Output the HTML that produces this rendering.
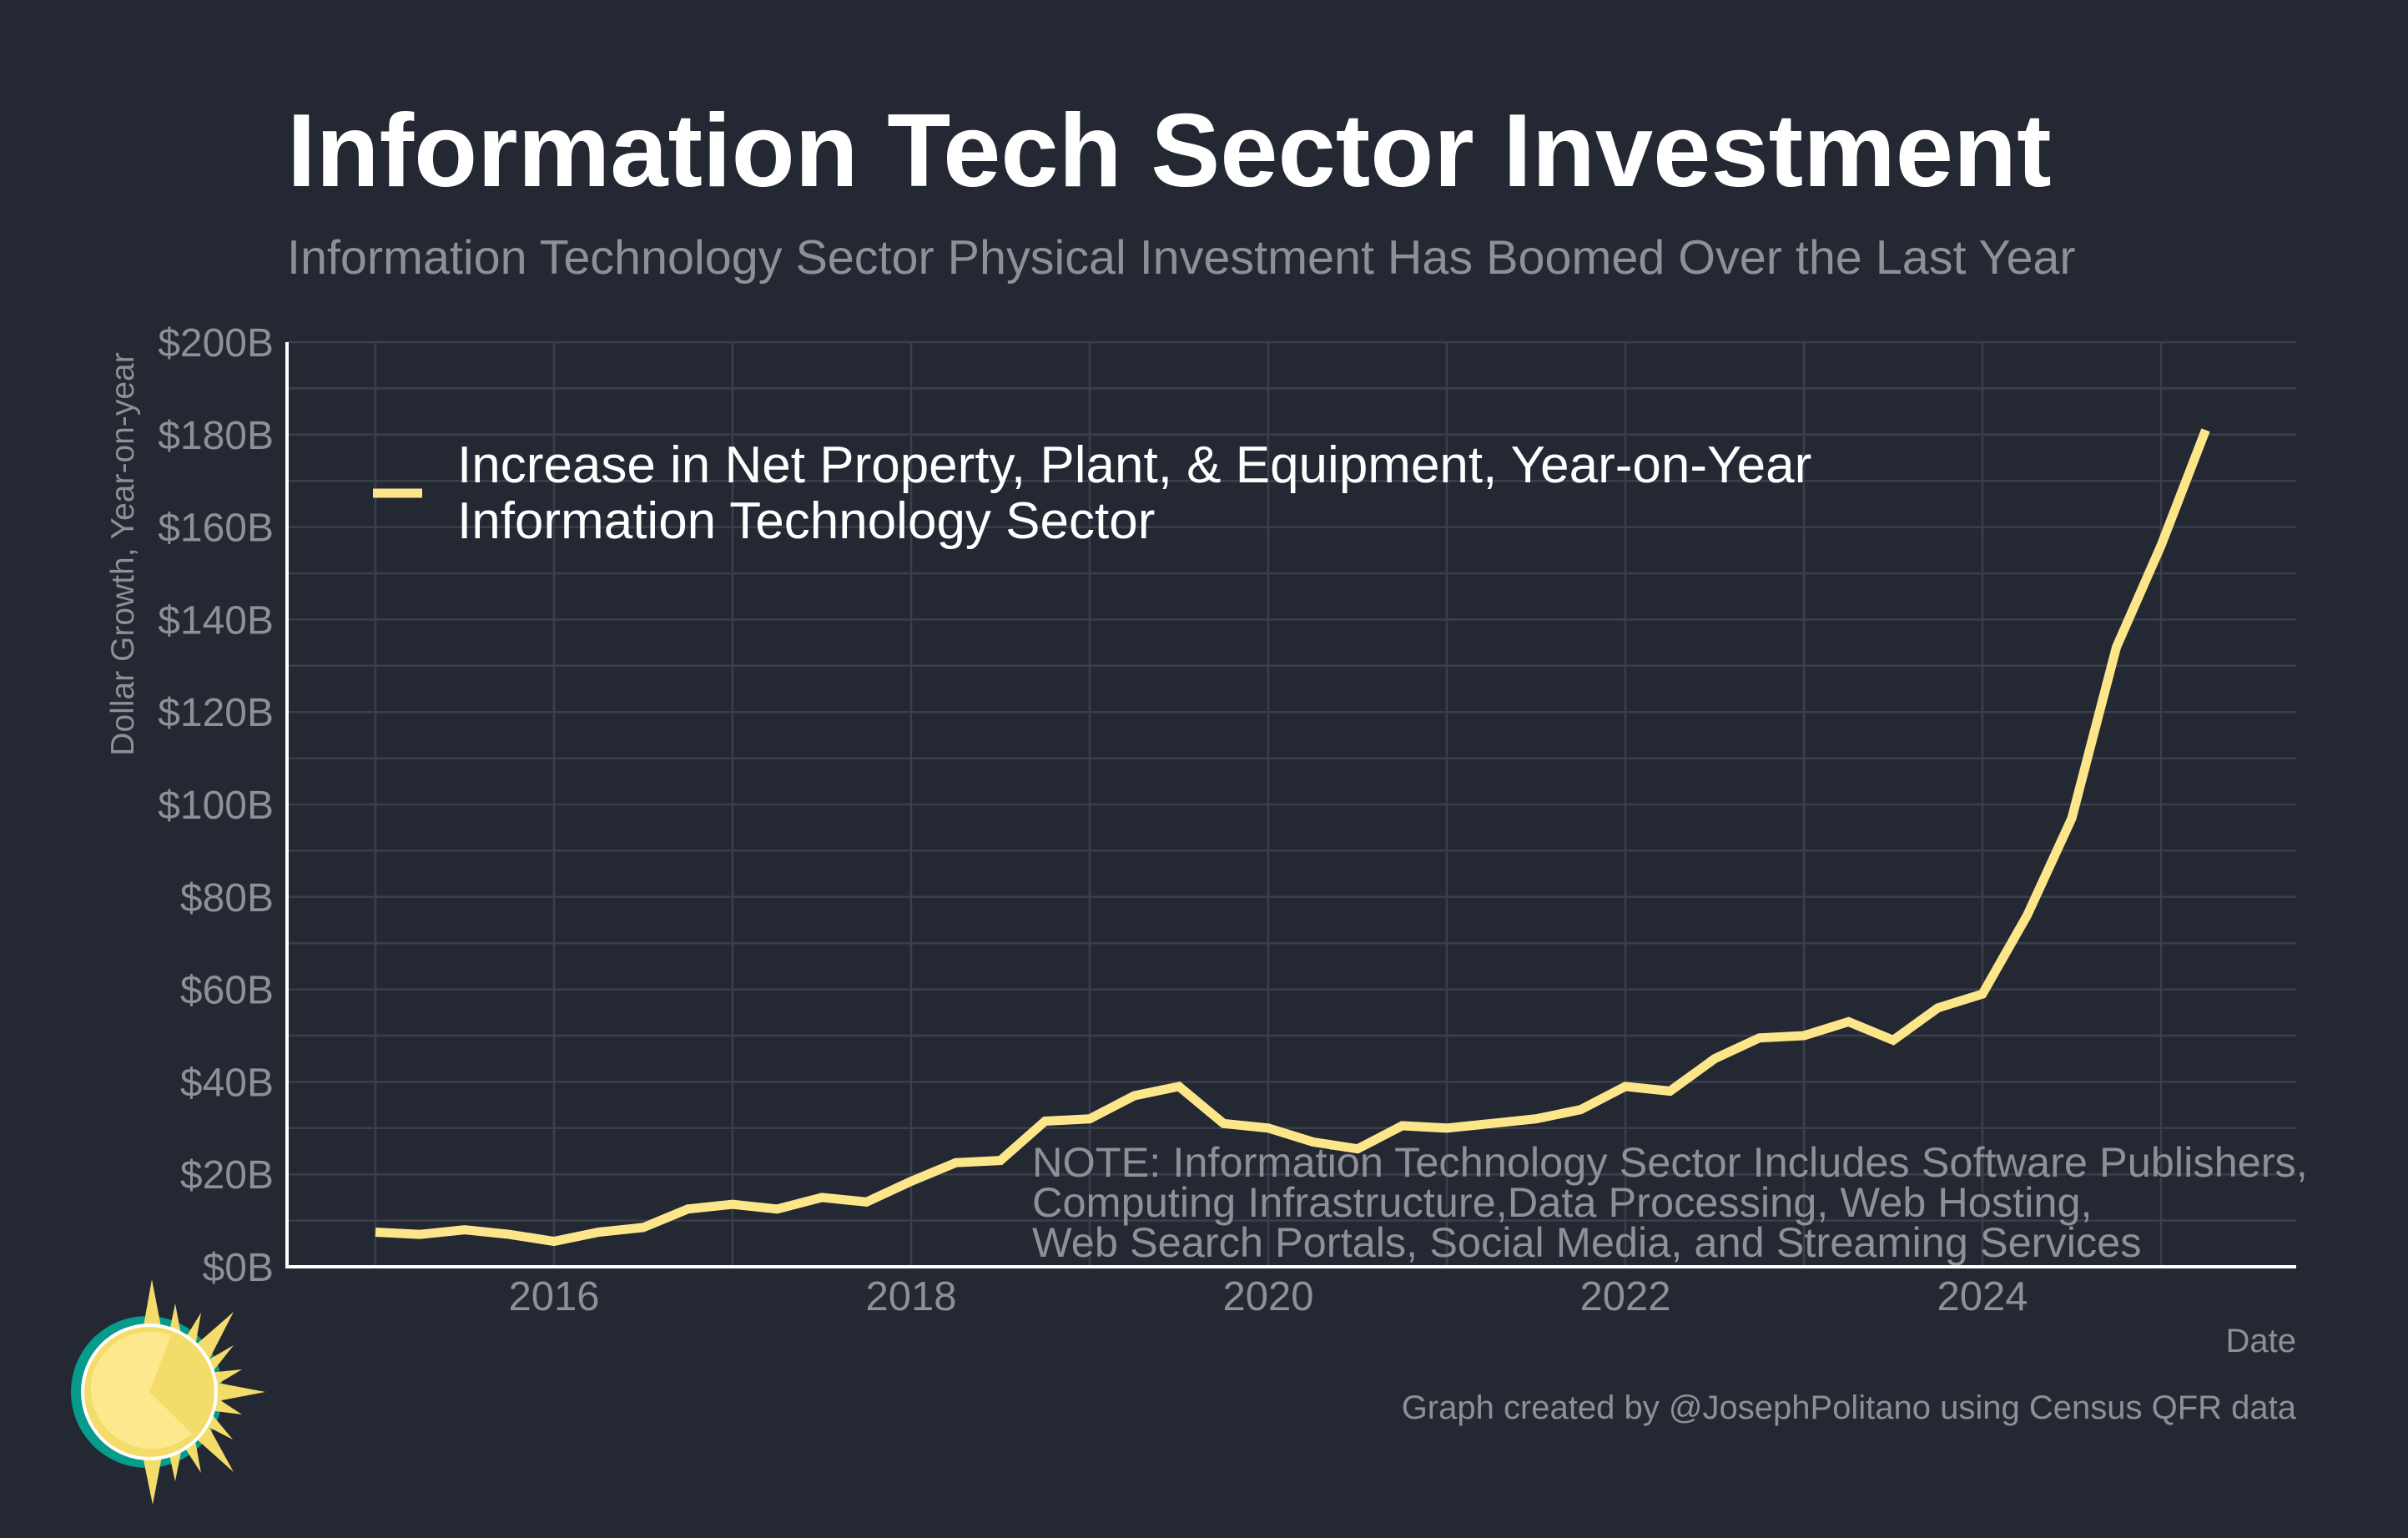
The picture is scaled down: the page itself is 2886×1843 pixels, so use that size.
<!DOCTYPE html>
<html><head><meta charset="utf-8"><style>
html,body{margin:0;padding:0;background:#242832;}
svg{display:block;font-family:"Liberation Sans",Arial,sans-serif;}
</style></head><body>
<svg id="chart" width="2886" height="1843" viewBox="0 0 2886 1843">
<rect width="2886" height="1843" fill="#242832"/>
<text x="344" y="223" font-size="124.5" font-weight="bold" fill="#ffffff">Information Tech Sector Investment</text>
<text x="344" y="328" font-size="57.5" fill="#8e9096">Information Technology Sector Physical Investment Has Boomed Over the Last Year</text>
<g id="grid"></g>
<g id="yticks"></g>
<g id="xticks"></g>
<text transform="translate(160,664) rotate(-90)" text-anchor="middle" font-size="39" fill="#8e9096">Dollar Growth, Year-on-year</text>
<text x="2752" y="1620" text-anchor="end" font-size="40" fill="#8e9096">Date</text>
<text x="1237" y="1410" font-size="50.5" fill="#8e9096">NOTE: Information Technology Sector Includes Software Publishers,</text>
<text x="1237" y="1458" font-size="50.5" fill="#8e9096">Computing Infrastructure,Data Processing, Web Hosting,</text>
<text x="1237" y="1506" font-size="50.5" fill="#8e9096">Web Search Portals, Social Media, and Streaming Services</text>
<path id="series" fill="none" stroke="#fde68a" stroke-width="11" stroke-linejoin="miter"/>
<line x1="344" y1="410" x2="344" y2="1520" stroke="#fff" stroke-width="4"/>
<line x1="342" y1="1518" x2="2752" y2="1518" stroke="#fff" stroke-width="4"/>
<g>
<line x1="447" y1="591" x2="506" y2="591" stroke="#fde68a" stroke-width="11"/>
<text x="548" y="578" font-size="62" fill="#ffffff">Increase in Net Property, Plant, &amp; Equipment, Year-on-Year</text>
<text x="548" y="645" font-size="62" fill="#ffffff">Information Technology Sector</text>
</g>
<text x="2752" y="1700" text-anchor="end" font-size="40" fill="#8e9096">Graph created by @JosephPolitano using Census QFR data</text>
<g>
<circle cx="176" cy="1668" r="91" fill="#079b8c"/>
<g fill="#f3dc6a">
<polygon points="182,1533 195,1600 170,1600"/>
<polygon points="183,1803 195,1740 170,1740"/>
<polygon points="318,1668 250,1655 250,1681"/>
<polygon points="210,1562 200,1610 220,1615"/>
<polygon points="241,1573 215,1615 232,1625"/>
<polygon points="280,1572 225,1620 245,1640"/>
<polygon points="280,1612 240,1635 250,1650"/>
<polygon points="290,1641 250,1645 255,1662"/>
<polygon points="290,1695 255,1672 250,1690"/>
<polygon points="279,1725 250,1690 240,1705"/>
<polygon points="280,1764 245,1700 225,1715"/>
<polygon points="241,1765 232,1715 215,1725"/>
<polygon points="210,1775 220,1725 200,1730"/>
</g>
<circle cx="179" cy="1668" r="80" fill="#f3dc6a" stroke="#fff" stroke-width="4"/>
<path d="M179,1668 L205,1600 A73,73 0 0 0 110,1650 A73,73 0 0 0 230,1718 Z" fill="#fde88d"/>
</g>
</svg>
<script>
const years = [2015,2015.25,2015.5,2015.75,2016,2016.25,2016.5,2016.75,2017,2017.25,2017.5,2017.75,2018,2018.25,2018.5,2018.75,2019,2019.25,2019.5,2019.75,2020,2020.25,2020.5,2020.75,2021,2021.25,2021.5,2021.75,2022,2022.25,2022.5,2022.75,2023,2023.25,2023.5,2023.75,2024,2024.25,2024.5,2024.75,2025,2025.25];
const values = [7.5,7,8,7,5.5,7.5,8.5,12.5,13.5,12.5,15,14,18.5,22.5,23,31.5,32,37,39,31,30,27,25.5,30.5,30,31,32,34,39,38,45,49.5,50,53,49,56,59,76,97,134,156,181];
const yTickValues = [0,20,40,60,80,100,120,140,160,180,200];
const yTickLabels = ["$0B","$20B","$40B","$60B","$80B","$100B","$120B","$140B","$160B","$180B","$200B"];
const xTickValues = [2016,2018,2020,2022,2024];
const xTickLabels = ["2016","2018","2020","2022","2024"];
const X0=344,X1=2752,Y0=1518,Y1=410;
function xs(v){return 664+(v-2016)*214;}
function ys(v){return Y0-(v/200)*(Y0-Y1);}
const NS="http://www.w3.org/2000/svg";
const grid=document.getElementById('grid');
for(let v=0;v<=200;v+=10){
  const l=document.createElementNS(NS,'line');
  l.setAttribute('x1',X0);l.setAttribute('x2',X1);l.setAttribute('y1',ys(v));l.setAttribute('y2',ys(v));
  l.setAttribute('stroke','#3b3f49');l.setAttribute('stroke-width','2.5');
  
  
  grid.appendChild(l);
}
for(let y=2015;y<=2025;y++){
  const l=document.createElementNS(NS,'line');
  l.setAttribute('x1',xs(y));l.setAttribute('x2',xs(y));l.setAttribute('y1',Y1);l.setAttribute('y2',Y0);
  l.setAttribute('stroke','#3b3f49');l.setAttribute('stroke-width','2.5');
  
  
  grid.appendChild(l);
}
const yt=document.getElementById('yticks');
yTickValues.forEach((v,i)=>{
  const t=document.createElementNS(NS,'text');
  t.setAttribute('x',328);t.setAttribute('y',ys(v)+17);t.setAttribute('text-anchor','end');
  t.setAttribute('font-size','48');t.setAttribute('fill','#8e9096');
  t.textContent=yTickLabels[i];
  
  
  yt.appendChild(t);
});
const xt=document.getElementById('xticks');
xTickValues.forEach((v,i)=>{
  const t=document.createElementNS(NS,'text');
  t.setAttribute('x',xs(v));t.setAttribute('y',1570);t.setAttribute('text-anchor','middle');
  t.setAttribute('font-size','49');t.setAttribute('fill','#8e9096');
  t.textContent=xTickLabels[i];
  
  
  xt.appendChild(t);
});
document.getElementById('series').setAttribute('d',years.map((y,i)=>(i?'L':'M')+xs(y).toFixed(1)+','+ys(values[i]).toFixed(1)).join(' '));
</script>
</body></html>
